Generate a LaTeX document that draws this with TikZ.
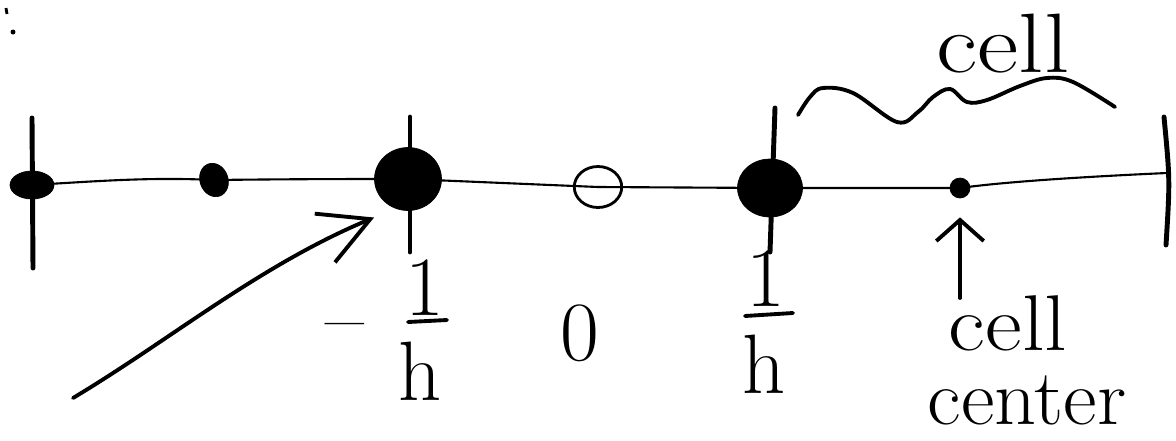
\documentclass[tikz,border=0pt]{standalone}
\usepackage{fontspec}
\usetikzlibrary{arrows.meta,shapes.geometric}
\begin{document}
\begin{tikzpicture}[x=0.02cm,y=-0.02cm,
  axis/.style={line width=1.2pt},
  tick/.style={line width=2.8pt, line cap=round},
  pen/.style={line width=2.2pt, line cap=round, line join=round},
  bigdot/.style={ellipse, fill=black, draw=black, inner sep=0pt},
  smalldot/.style={ellipse, fill=black, draw=black, inner sep=0pt},
  hand/.style={font=\fontsize{48}{50}\selectfont, inner sep=0pt, anchor=base},
  handsm/.style={font=\fontsize{45}{47}\selectfont, inner sep=0pt, anchor=base},
]
\useasboundingbox (0,0) rectangle (1176,440);

% stray marks
\draw[line width=1.6pt] (6,8) -- (7,14);
\fill (13,32) circle (0.05cm);

% ticks
\draw[tick] (32,118) -- (33,268);
\draw[tick] (410,117) -- (410,252);
\draw[tick] (775,108) .. controls (773,180) .. (770,252);
\draw[tick] (1164,117) .. controls (1170,180) .. (1166,245);

% points on the axis
\node[smalldot, minimum width=0.88cm, minimum height=0.56cm] (p0) at (32,185) {};
\node[smalldot, minimum width=0.56cm, minimum height=0.68cm, rotate=20] (p1) at (214,180) {};
\node[bigdot, minimum width=1.34cm, minimum height=1.26cm] (m1) at (408,179) {};
\node[ellipse, draw, line width=1.6pt, minimum width=0.95cm, minimum height=0.82cm, inner sep=0pt] (o) at (598,187) {};
\node[bigdot, minimum width=1.3cm, minimum height=1.16cm] (m2) at (770,188) {};
\node[smalldot, minimum size=0.4cm] (c) at (960,188) {};
\coordinate (r) at (1167,173);

% axis
\draw[axis] (p0.center) .. controls (100,181) and (150,177) .. (p1.center)
  .. controls (300,179) and (350,179) .. (m1.center) -- (o.center) -- (m2.center) -- (c.center)
  .. controls (1010,181) and (1100,176) .. (r);

% arrow pointing at -1/h point
\coordinate (tail) at (73,398);
\draw[pen, -{Straight Barb[length=28pt,width=30pt]}] (tail) .. controls (170,340) and (260,265) .. ([shift={(-0.2cm,-0.32cm)}]m1.south west);

% wavy brace
\draw[pen] plot[smooth, tension=0.6] coordinates {(798,115)(810,97)(823,88)(853,93)(897,122)(918,112)(933,97)(950,89)(967,102)(987,100)(1020,86)(1047,78)(1073,82)(1115,107)};
\node[hand, xscale=1.2, transform shape] (celltop) at (1003,72) {cell};

% labels
\node[hand] (mn) at (345,346) {–};
\node[hand] (n1) at (425,315) {1};
\draw[pen] (408,322) -- (447,320);
\node[hand] (h1) at (420,400) {h};
\node[hand] (zero) at (580,360) {0};
\node[hand] (n2) at (766,306) {1};
\draw[pen] (745,316) -- (793,313);
\node[hand] (h2) at (764,393) {h};

% cell center
\node[handsm, xscale=1.14, transform shape] (cc1) at (1008,350) {cell};
\node[handsm, xscale=1.04, transform shape] (cc2) at (1027,424) {center};
\coordinate (ctail) at (960,298);
\draw[pen, shorten >=0.38cm, -{Straight Barb[length=12pt,width=27pt]}] (ctail) -- (c);
\end{tikzpicture}
\end{document}
